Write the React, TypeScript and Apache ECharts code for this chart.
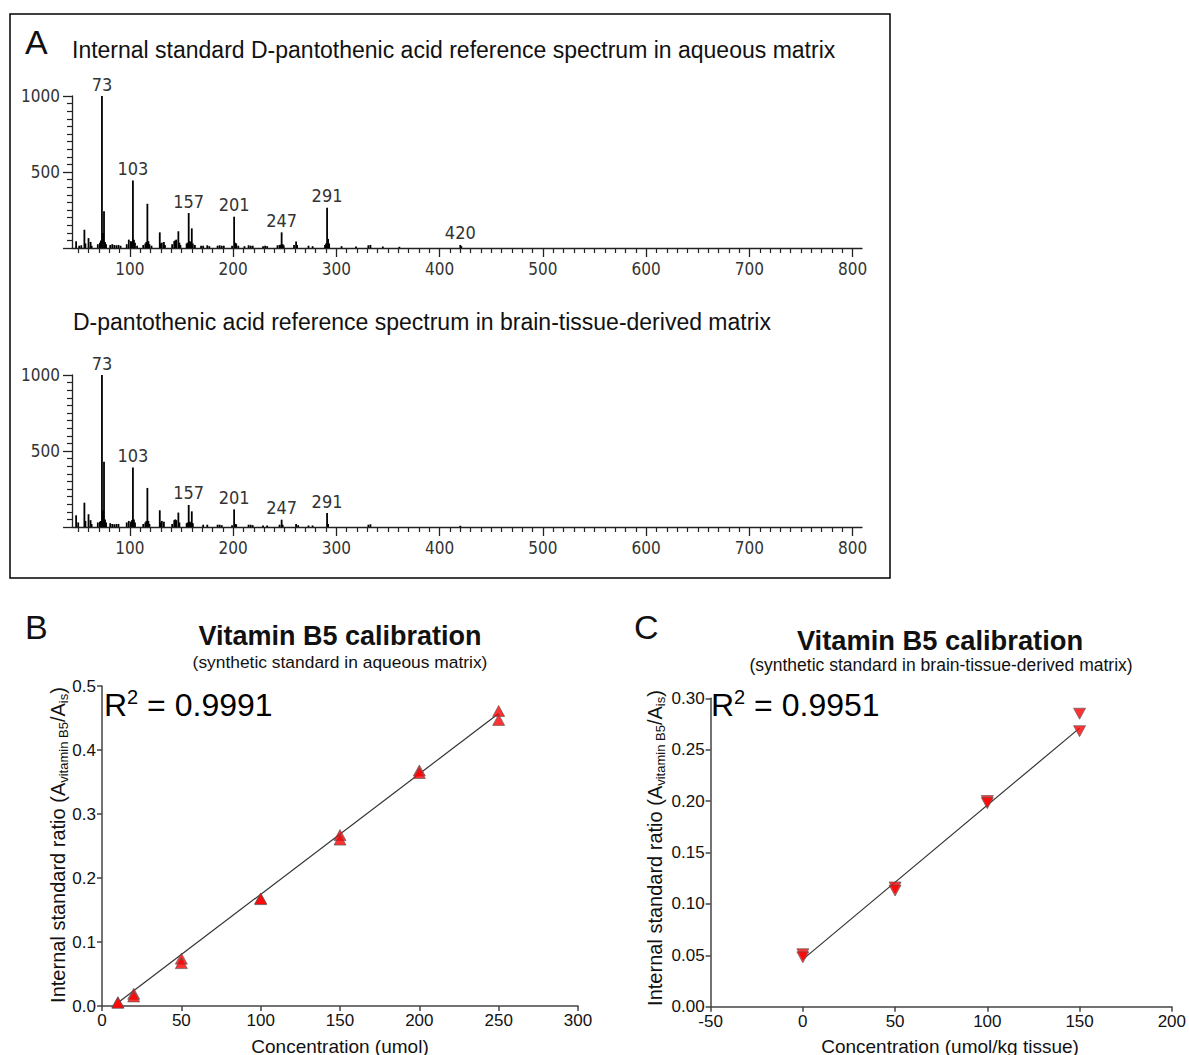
import React, { useEffect, useRef } from 'react';
import * as echarts from 'echarts';

const FONT = '"Liberation Sans", Arial, sans-serif';
const SPEC_FONT = '"DejaVu Sans Condensed", "DejaVu Sans", sans-serif';

// ---- Panel A: mass spectra (m/z, relative intensity) ----
const topPeaks: [number, number][] = [
  [48, 44], [51, 15], [53, 18], [56, 120], [57, 30], [60, 65], [62, 40], [63, 15], [69, 25], [71, 35], [72, 50],
  [73, 1000], [74, 98], [75, 241], [76, 40], [77, 25], [81, 20], [83, 25], [85, 20], [87, 18], [89, 20], [91, 15],
  [97, 25], [99, 55], [101, 45], [102, 40], [103, 444], [104, 55], [105, 35], [107, 15], [113, 20], [115, 30],
  [116, 40], [117, 291], [118, 45], [119, 25], [121, 15], [129, 103], [130, 30], [131, 35], [133, 40], [134, 20],
  [141, 25], [143, 45], [144, 50], [145, 55], [147, 110], [148, 35], [149, 20], [155, 30], [156, 35], [157, 230],
  [158, 45], [159, 40], [160, 129], [161, 30], [163, 20], [169, 15], [171, 15], [175, 18], [177, 12], [185, 15],
  [187, 18], [189, 15], [191, 15], [199, 15], [201, 206], [202, 35], [203, 30], [205, 15], [211, 12], [215, 18],
  [217, 15], [219, 15], [229, 12], [231, 15], [233, 12], [243, 18], [245, 20], [246, 22], [247, 103], [248, 25],
  [249, 18], [259, 20], [261, 42], [262, 20], [273, 15], [277, 12], [289, 20], [290, 30], [291, 265], [292, 60],
  [293, 30], [305, 12], [319, 10], [331, 18], [333, 20], [345, 10], [361, 8], [420, 20], [421, 12],
];
const topLabels = [73, 103, 157, 201, 247, 291, 420];

const bottomPeaks: [number, number][] = [
  [48, 77], [50, 30], [56, 160], [57, 40], [60, 84], [62, 45], [63, 20], [69, 30], [71, 35], [72, 40],
  [73, 1000], [74, 110], [75, 429], [76, 50], [77, 30], [81, 25], [83, 20], [85, 18], [87, 20], [89, 20],
  [97, 30], [99, 40], [101, 35], [102, 45], [103, 391], [104, 50], [105, 30], [113, 20], [115, 30], [116, 40],
  [117, 257], [118, 40], [119, 20], [129, 110], [130, 30], [131, 40], [133, 35], [141, 20], [143, 45], [144, 50],
  [145, 45], [147, 95], [148, 30], [155, 25], [156, 30], [157, 145], [158, 35], [159, 30], [160, 103], [161, 25],
  [171, 15], [175, 15], [185, 15], [187, 15], [189, 12], [199, 12], [201, 116], [202, 20], [203, 18], [215, 15],
  [217, 15], [219, 12], [229, 10], [233, 10], [245, 15], [247, 48], [248, 15], [261, 20], [263, 12], [273, 10],
  [277, 10], [291, 92], [292, 20], [331, 15], [333, 18], [420, 8],
];
const bottomLabels = [73, 103, 157, 201, 247, 291];

const specXLabels = [100, 200, 300, 400, 500, 600, 700, 800];
const specYLabels = [500, 1000];
const specYMajorTicks = [0, 500, 1000];

// ---- Panel B: calibration, aqueous matrix ----
const bX = [10, 10, 20, 20, 50, 50, 100, 100, 150, 150, 200, 200, 250, 250];
const bY = [0.006, 0.005, 0.019, 0.015, 0.074, 0.067, 0.168, 0.167, 0.267, 0.26, 0.368, 0.364, 0.461, 0.447];
const bFit: [number, number][] = [[10, 0.005], [250, 0.457]];

// ---- Panel C: calibration, brain-tissue-derived matrix ----
const cX = [0, 0, 50, 50, 100, 100, 150, 150];
const cY = [0.051, 0.048, 0.116, 0.113, 0.2, 0.198, 0.285, 0.268];
const cFit: [number, number][] = [[0, 0.046], [150, 0.271]];

const specXMinor: number[] = [];
for (let v = 50; v <= 800; v += 10) if (v % 100 !== 0) specXMinor.push(v);
const specYMinor: number[] = [];
for (let v = 50; v < 1000; v += 50) if (v !== 500) specYMinor.push(v);

const AX = '#222';

function specXAxes(gridIndex: number) {
  return [
    {
      type: 'value', gridIndex, min: 44, max: 809, position: 'bottom',
      axisLine: { show: true, onZero: false, lineStyle: { color: AX, width: 1.3 } },
      axisTick: { show: true, length: 9, customValues: specXLabels, lineStyle: { color: AX, width: 1.3 } },
      axisLabel: {
        show: true, customValues: specXLabels, margin: 12, fontFamily: SPEC_FONT, fontSize: 17, color: '#333',
        formatter: (v: number) => String(v),
      },
      splitLine: { show: false },
    },
    {
      type: 'value', gridIndex, min: 44, max: 809, position: 'bottom',
      axisLine: { show: false, onZero: false },
      axisTick: { show: true, length: 5, customValues: specXMinor, lineStyle: { color: AX, width: 1.2 } },
      axisLabel: { show: false },
      splitLine: { show: false },
    },
  ];
}

function specYAxes(gridIndex: number) {
  return [
    {
      type: 'value', gridIndex, min: 0, max: 1000, position: 'left',
      axisLine: { show: true, onZero: false, lineStyle: { color: AX, width: 1.3 } },
      axisTick: { show: true, length: 9, customValues: specYMajorTicks, lineStyle: { color: AX, width: 1.3 } },
      axisLabel: {
        show: true, customValues: specYLabels, margin: 12, fontFamily: SPEC_FONT, fontSize: 17, color: '#333',
        formatter: (v: number) => String(v),
      },
      splitLine: { show: false },
    },
    {
      type: 'value', gridIndex, min: 0, max: 1000, position: 'left',
      axisLine: { show: false, onZero: false },
      axisTick: { show: true, length: 5, customValues: specYMinor, lineStyle: { color: AX, width: 1.2 } },
      axisLabel: { show: false },
      splitLine: { show: false },
    },
  ];
}

function specSeries(peaks: [number, number][], labels: number[], axisIndex: number) {
  return {
    type: 'bar',
    xAxisIndex: axisIndex,
    yAxisIndex: axisIndex,
    barWidth: 1.8,
    clip: false,
    itemStyle: { color: '#000' },
    data: peaks.map(([mz, h]) =>
      labels.includes(mz)
        ? {
            value: [mz, h],
            label: {
              show: true, position: 'top', distance: 3, formatter: String(mz),
              fontFamily: SPEC_FONT, fontSize: 18, color: '#333',
            },
          }
        : { value: [mz, h] }
    ),
  };
}

const calAxisLine = { show: true, onZero: false, lineStyle: { color: '#444', width: 1.5 } };
const calTick = { show: true, length: 5, lineStyle: { color: '#444', width: 1.5 } };
const calLabel = (digits: number) => ({
  fontFamily: FONT, fontSize: 17, color: '#111', margin: 6,
  formatter: (v: number) => (digits < 0 ? String(v) : v.toFixed(digits)),
});

const yLabelRich = {
  a: { fontFamily: FONT, fontSize: 20, lineHeight: 24, fill: '#111', verticalAlign: 'middle' },
  s: { fontFamily: FONT, fontSize: 13, lineHeight: 14, fill: '#111', verticalAlign: 'bottom' },
};
const r2Rich = {
  r: { fontFamily: FONT, fontSize: 32, lineHeight: 36, fill: '#000', verticalAlign: 'middle' },
  p: { fontFamily: FONT, fontSize: 20, lineHeight: 22, fill: '#000', verticalAlign: 'top' },
};

function txt(x: number, y: number, text: string, font: string, align = 'left', extra: any = {}) {
  return {
    type: 'text', x, y,
    style: { text, font, fill: '#111', align, verticalAlign: 'middle' },
    ...extra,
  };
}

export default function App() {
  const ref = useRef<HTMLDivElement>(null);
  useEffect(() => {
    if (!ref.current) return;
    const chart = echarts.init(ref.current, undefined, { renderer: 'svg' });
    const option: any = {
      animation: false,
      backgroundColor: '#fff',
      grid: [
        { left: 72, top: 96, width: 790, height: 152 },
        { left: 72, top: 375, width: 790, height: 152 },
        { left: 102, top: 686, width: 476, height: 320 },
        { left: 710.6, top: 698.3, width: 461.4, height: 308.4 },
      ],
      xAxis: [
        ...specXAxes(0),
        ...specXAxes(1),
        {
          type: 'value', gridIndex: 2, min: 0, max: 300, interval: 50,
          axisLine: calAxisLine, axisTick: calTick, axisLabel: calLabel(-1), splitLine: { show: false },
        },
        {
          type: 'value', gridIndex: 3, min: -50, max: 200, interval: 50,
          axisLine: calAxisLine, axisTick: calTick, axisLabel: calLabel(-1), splitLine: { show: false },
        },
      ],
      yAxis: [
        ...specYAxes(0),
        ...specYAxes(1),
        {
          type: 'value', gridIndex: 2, min: 0, max: 0.5, interval: 0.1,
          axisLine: calAxisLine, axisTick: calTick, axisLabel: calLabel(1), splitLine: { show: false },
        },
        {
          type: 'value', gridIndex: 3, min: 0, max: 0.3, interval: 0.05,
          axisLine: calAxisLine, axisTick: calTick, axisLabel: calLabel(2), splitLine: { show: false },
        },
      ],
      series: [
        specSeries(topPeaks, topLabels, 0),
        specSeries(bottomPeaks, bottomLabels, 2),
        {
          type: 'line', xAxisIndex: 4, yAxisIndex: 4, data: bFit, showSymbol: false, z: 2,
          lineStyle: { color: '#333', width: 1.2 },
        },
        {
          type: 'scatter', xAxisIndex: 4, yAxisIndex: 4, z: 3,
          data: bX.map((x, i) => [x, bY[i]]),
          symbol: 'triangle', symbolSize: [12, 11],
          itemStyle: { color: '#ff0000', borderColor: '#555', borderWidth: 0.8 },
        },
        {
          type: 'line', xAxisIndex: 5, yAxisIndex: 5, data: cFit, showSymbol: false, z: 2,
          lineStyle: { color: '#333', width: 1.2 },
        },
        {
          type: 'scatter', xAxisIndex: 5, yAxisIndex: 5, z: 3,
          data: cX.map((x, i) => [x, cY[i]]),
          symbol: 'triangle', symbolRotate: 180, symbolSize: [12, 11],
          itemStyle: { color: '#ff0000', borderColor: '#555', borderWidth: 0.8 },
        },
      ],
      graphic: [
        {
          type: 'rect', shape: { x: 10, y: 14, width: 880, height: 564 },
          style: { fill: 'none', stroke: '#000', lineWidth: 1.5 },
        },
        txt(25, 42, 'A', `34px ${FONT}`),
        txt(72, 50, 'Internal standard D-pantothenic acid reference spectrum in aqueous matrix', `23px ${FONT}`),
        txt(73, 322, 'D-pantothenic acid reference spectrum in brain-tissue-derived matrix', `23px ${FONT}`),
        txt(25, 627, 'B', `34px ${FONT}`),
        txt(634, 627, 'C', `34px ${FONT}`),
        txt(340, 636, 'Vitamin B5 calibration', `bold 27px ${FONT}`, 'center'),
        txt(340, 662, '(synthetic standard in aqueous matrix)', `17.4px ${FONT}`, 'center'),
        txt(940, 640, 'Vitamin B5 calibration', `bold 27.3px ${FONT}`, 'center'),
        txt(941, 665, '(synthetic standard in brain-tissue-derived matrix)', `17.5px ${FONT}`, 'center'),
        txt(340, 1046, 'Concentration (umol)', `19px ${FONT}`, 'center'),
        txt(950, 1046, 'Concentration (umol/kg tissue)', `19px ${FONT}`, 'center'),
        {
          type: 'text', x: 104, y: 705,
          style: { text: '{r|R}{p|2}{r| = 0.9991}', rich: r2Rich, align: 'left', verticalAlign: 'middle' },
        },
        {
          type: 'text', x: 711, y: 705,
          style: { text: '{r|R}{p|2}{r| = 0.9951}', rich: r2Rich, align: 'left', verticalAlign: 'middle' },
        },
        {
          type: 'text', x: 58, y: 845, rotation: Math.PI / 2,
          style: {
            text: '{a|Internal standard ratio (A}{s|vitamin B5}{a|/A}{s|is}{a|)}',
            rich: yLabelRich, align: 'center', verticalAlign: 'middle',
          },
        },
        {
          type: 'text', x: 655, y: 848, rotation: Math.PI / 2,
          style: {
            text: '{a|Internal standard ratio (A}{s|vitamin B5}{a|/A}{s|is}{a|)}',
            rich: yLabelRich, align: 'center', verticalAlign: 'middle',
          },
        },
      ],
    };
    chart.setOption(option);
    return () => chart.dispose();
  }, []);
  return (
    <div
      ref={ref}
      style={{ position: 'absolute', left: 0, top: 0, width: 1189, height: 1055, background: '#fff' }}
    />
  );
}
